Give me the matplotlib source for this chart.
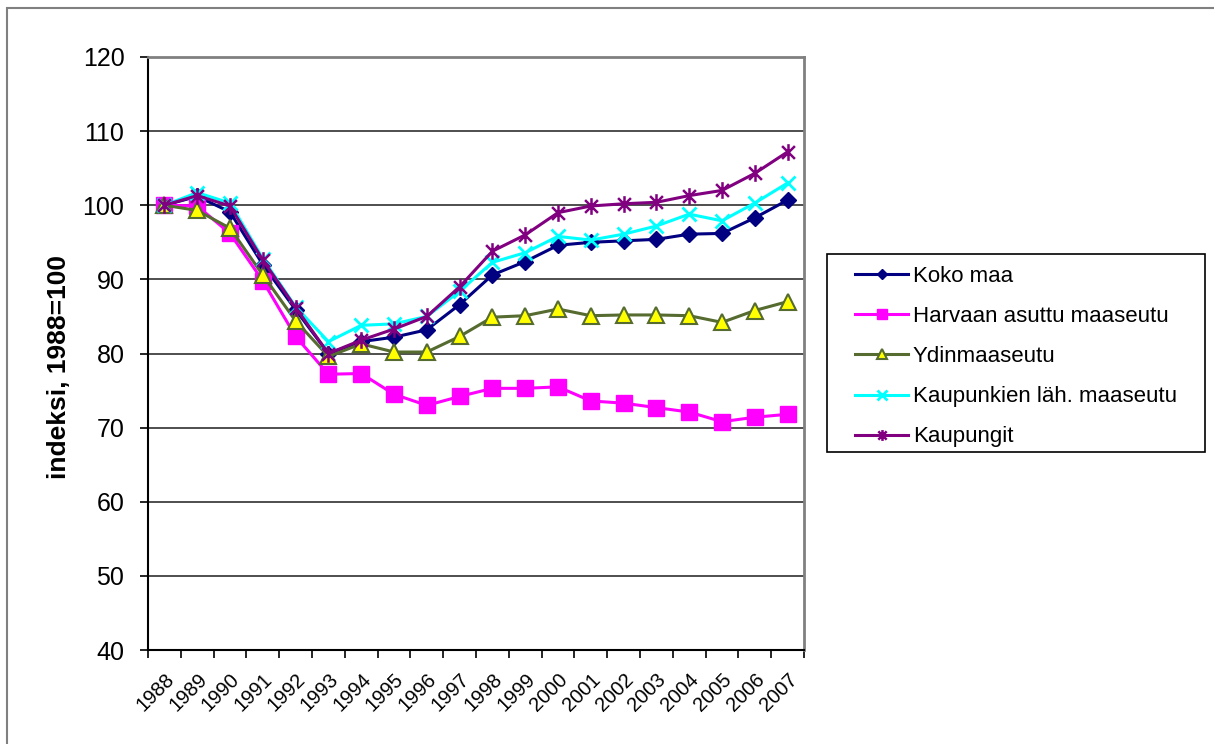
import matplotlib
matplotlib.use("Agg")
import matplotlib.pyplot as plt
from matplotlib.path import Path
from matplotlib.patches import Rectangle

plt.rcParams['font.family'] = ['Liberation Sans', 'DejaVu Sans']

years = [str(y) for y in range(1988, 2008)]

koko_maa = [100, 101.2, 99.1, 92.0, 85.9, 80.0, 81.6, 82.2, 83.2, 86.6,
            90.6, 92.4, 94.6, 95.0, 95.2, 95.4, 96.1, 96.2, 98.3, 100.7]
harvaan = [100, 99.9, 96.2, 89.8, 82.3, 77.2, 77.3, 74.5, 73.0, 74.2,
           75.3, 75.3, 75.5, 73.6, 73.3, 72.7, 72.1, 70.8, 71.4, 71.8]
ydin = [100, 99.3, 96.9, 90.6, 84.4, 79.6, 81.3, 80.2, 80.2, 82.3,
        84.9, 85.1, 86.0, 85.1, 85.2, 85.2, 85.1, 84.2, 85.8, 87.0]
kaupunkien = [100, 101.7, 100.3, 92.8, 86.3, 81.6, 83.8, 84.0, 85.0, 88.4,
              92.3, 93.6, 95.8, 95.3, 96.1, 97.2, 98.8, 97.9, 100.3, 103.0]
kaupungit = [100, 101.3, 99.9, 92.6, 86.2, 80.0, 81.8, 83.3, 85.0, 89.0,
             93.8, 96.0, 99.0, 99.9, 100.2, 100.4, 101.3, 102.0, 104.3, 107.2]

# excel style asterisk: x plus a vertical bar
asterisk = Path([(-1, -1), (1, 1), (-1, 1), (1, -1), (0, -1.3), (0, 1.3)],
                [Path.MOVETO, Path.LINETO, Path.MOVETO, Path.LINETO, Path.MOVETO, Path.LINETO])

W, H = 1214, 744
fig = plt.figure(figsize=(W / 100, H / 100), dpi=100)
fig.patches.append(Rectangle((7 / W, -0.1), 1.2, 1.1 - 8 / H, transform=fig.transFigure,
                             fill=False, edgecolor='#808080', linewidth=1.5))
ax = fig.add_axes([148 / W, 1 - 650 / H, (804 - 148) / W, (650 - 57) / H])

x = list(range(len(years)))
ax.plot(x, koko_maa, color='#000080', lw=2.2, marker='D', ms=8,
        mfc='#000080', mec='#000080', label='Koko maa', zorder=3)
ax.plot(x, harvaan, color='#FF00FF', lw=2.2, marker='s', ms=11,
        mfc='#FF00FF', mec='#FF00FF', label='Harvaan asuttu maaseutu', zorder=3)
ax.plot(x, ydin, color='#556B2F', lw=2.2, marker='^', ms=11,
        mfc='#FFFF00', mec='#556B2F', mew=1.5, label='Ydinmaaseutu', zorder=3)
ax.plot(x, kaupunkien, color='#00FFFF', lw=2.2, marker='x', ms=10,
        mew=2, label='Kaupunkien läh. maaseutu', zorder=3)
ax.plot(x, kaupungit, color='#800080', lw=2.2, marker=asterisk, ms=12,
        mew=1.8, mfc='none', mec='#800080', label='Kaupungit', zorder=3)

ax.set_xlim(-0.5, len(years) - 0.5)
ax.set_ylim(40, 120)
ax.set_yticks(range(40, 121, 10))
ax.set_xticks([i - 0.5 for i in range(len(years) + 1)], minor=False)
ax.set_xticklabels([])
ax.set_xticks(x, minor=True)
ax.set_xticklabels(years, minor=True, rotation=45, ha='right', va='top',
                   rotation_mode='anchor', fontsize=14.5)
ax.tick_params(axis='x', which='minor', length=0, pad=14)
ax.tick_params(axis='x', which='major', direction='out', length=6, width=1.2)
ax.tick_params(axis='y', direction='out', length=6, width=1.2, labelsize=18, pad=11)

for y in range(50, 120, 10):
    ax.axhline(y, color='#303030', lw=1.2, zorder=1)

ax.spines['left'].set_color('black')
ax.spines['bottom'].set_color('black')
ax.spines['left'].set_linewidth(1.5)
ax.spines['bottom'].set_linewidth(1.5)
ax.spines['top'].set_color('#808080')
ax.spines['right'].set_color('#808080')
ax.spines['top'].set_linewidth(2)
ax.spines['right'].set_linewidth(2)

ax.set_ylabel('indeksi, 1988=100', fontsize=19, fontweight='bold')
ax.yaxis.set_label_coords(-0.117, 0.478)

leg = ax.legend(loc='upper left', bbox_to_anchor=(855 / W, 1 - 266 / H),
                bbox_transform=fig.transFigure, fontsize=16, frameon=False,
                handlelength=2.4, labelspacing=0.86, borderpad=0,
                handletextpad=0.2, borderaxespad=0, markerscale=0.65)
fig.patches.append(Rectangle((827 / W, 1 - 452 / H), (1205 - 827) / W, (452 - 254) / H,
                             transform=fig.transFigure, fill=False,
                             edgecolor='black', linewidth=1.2))

fig.savefig('out.png', dpi=100)
